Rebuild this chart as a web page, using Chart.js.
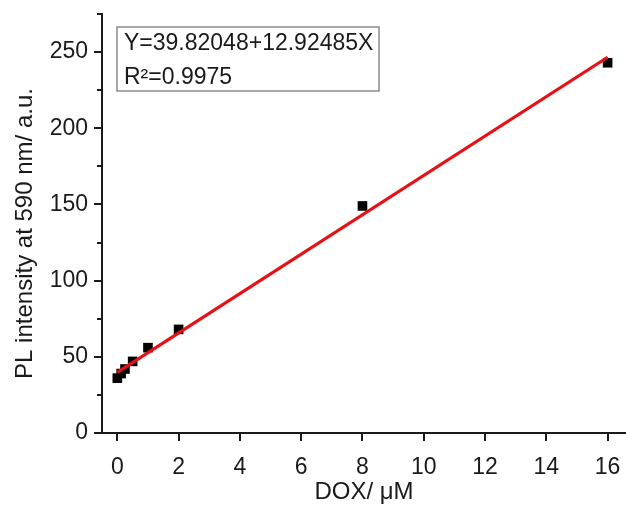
<!DOCTYPE html>
<html>
<head>
<meta charset="utf-8">
<script src="https://cdn.jsdelivr.net/npm/chart.js@4/dist/chart.umd.min.js"></script>
<style>
html, body { margin: 0; padding: 0; background: #fff; }
#wrap { width: 626px; height: 513px; }
</style>
</head>
<body>
<div id="wrap"><canvas id="plot" width="626" height="513"></canvas></div>
<script>
// DOX concentration (uM) vs PL intensity at 590 nm
const doxConc = [0, 0.125, 0.25, 0.5, 1, 2, 8, 16];
const plIntensity = [36, 39, 42, 47, 56, 68, 149, 243];
// end points of the linear fit
const fitX = [0, 16];
const fitY = [39.82, 246.62];
const xTicks = [0, 2, 4, 6, 8, 10, 12, 14, 16];
const yTicks = [0, 50, 100, 150, 200, 250];
const yMinorTicks = [25, 75, 125, 175, 225, 275];
const fitText = ['Y=39.82048+12.92485X', 'R\u00b2=0.9975'];

const FONT = '"Liberation Sans", Arial, sans-serif';
const INK = '#1a1a1a';

// minor ticks on y + the fit result box
const extras = {
    id: 'extras',
    afterDraw(chart) {
        const ctx = chart.ctx, ys = chart.scales.y, a = chart.chartArea;
        ctx.save();
        ctx.strokeStyle = INK; ctx.lineWidth = 2;
        yMinorTicks.forEach(v => {
            const py = Math.round(ys.getPixelForValue(v));
            ctx.beginPath(); ctx.moveTo(a.left - 5, py); ctx.lineTo(a.left, py); ctx.stroke();
        });
        let bx = a.left + 15, by = a.top + 13, bw = 262, bh = 64;
        ctx.strokeStyle = '#8c8c8c'; ctx.lineWidth = 1.5;
        ctx.strokeRect(bx, by, bw, bh);
        ctx.fillStyle = INK;
        ctx.font = '23px ' + FONT;
        ctx.textBaseline = 'alphabetic';
        ctx.fillText(fitText[0], bx + 7, by + 23);
        ctx.fillText(fitText[1], bx + 7, by + 57);
        ctx.restore();
    }
};

let _plot_ = new Chart(document.getElementById('plot'), {
    type: 'scatter',
    data: {
        datasets: [{
            type: 'line',
            data: fitX.map((x, i) => ({x: x, y: fitY[i]})),
            borderColor: 'rgb(232,16,20)', borderWidth: 3.2,
            pointRadius: 0, fill: false, tension: 0
        }, {
            data: doxConc.map((x, i) => ({x: x, y: plIntensity[i]})),
            pointStyle: 'rect', pointRadius: 6.8,
            backgroundColor: '#000', borderColor: '#000', borderWidth: 0
        }]
    },
    options: {
        responsive: false, animation: false,
        layout: { autoPadding: false, padding: { top: 14, right: 0, bottom: 0, left: 0 } },
        plugins: { legend: { display: false }, tooltip: { enabled: false } },
        scales: {
            x: {
                type: 'linear', min: -0.5, max: 16.6,
                afterBuildTicks: s => { s.ticks = xTicks.map(v => ({value: v})); },
                afterFit: s => { s.height = 80; s.paddingLeft = 0; s.paddingRight = 0; },
                grid: { drawOnChartArea: false, drawTicks: true, tickLength: 8, lineWidth: 2, tickColor: INK },
                border: { display: true, color: INK, width: 2 },
                ticks: { color: INK, padding: 13, font: { family: FONT, size: 23 }, maxRotation: 0, autoSkip: false },
                title: { display: true, text: 'DOX/ \u03bcM', color: INK, padding: { top: 0, bottom: 6 }, font: { family: FONT, size: 24 } }
            },
            y: {
                min: 0, max: 275,
                afterBuildTicks: s => { s.ticks = yTicks.map(v => ({value: v})); },
                afterFit: s => { s.width = 102; s.paddingTop = 0; s.paddingBottom = 0; },
                grid: { drawOnChartArea: false, drawTicks: true, tickLength: 8, lineWidth: 2, tickColor: INK },
                border: { display: true, color: INK, width: 2 },
                ticks: { color: INK, padding: 6, font: { family: FONT, size: 23 } },
                title: { display: true, text: 'PL intensity at 590 nm/ a.u.   ', color: INK, padding: { top: 11, bottom: 0 }, font: { family: FONT, size: 24 } }
            }
        }
    },
    plugins: [extras]
});
</script>
</body>
</html>
